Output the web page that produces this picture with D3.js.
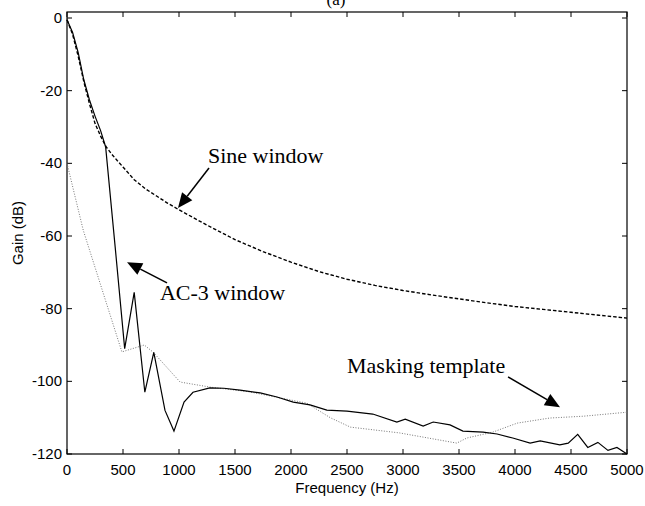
<!DOCTYPE html>
<html><head><meta charset="utf-8">
<script src="https://cdn.jsdelivr.net/npm/d3@7"></script>
<style>body{margin:0;background:#fff}svg{display:block}</style>
</head><body>
<svg id="c" width="645" height="506"></svg>
<script>
const xTicks = [0,500,1000,1500,2000,2500,3000,3500,4000,4500,5000];
const yTicks = [0,-20,-40,-60,-80,-100,-120];

const freqSine = [0,50,100,150,200,250,300,350,400,450,500,600,700,800,900,1000,1250,1500,1750,2000,2250,2500,2750,3000,3250,3500,3750,4000,4250,4500,4750,5000];
const gainSine = [-0.5,-4.5,-10.5,-17.5,-23.5,-29,-32.5,-35.5,-37.5,-39.3,-41,-44.5,-47,-49,-51,-52.8,-57,-61,-64.3,-67.2,-69.8,-71.9,-73.6,-75,-76.2,-77.3,-78.4,-79.4,-80.2,-81,-81.8,-82.6];

const freqAC3 = [0,50,100,150,200,250,300,345,430,515,600,695,775,875,955,1045,1125,1275,1400,1545,1725,1875,2020,2170,2320,2500,2730,2945,3020,3180,3270,3420,3535,3715,3840,3980,4135,4225,4400,4475,4560,4650,4740,4830,4910,5000];
const gainAC3 = [-0.5,-4,-9.5,-17,-22.5,-27,-31,-35.5,-63,-91,-75.5,-103,-92,-108,-113.7,-105.7,-103,-101.8,-101.9,-102.4,-103.2,-104.3,-105.7,-106.5,-107.9,-108.2,-109,-111.2,-110.4,-112.3,-111.2,-112,-113.7,-114,-114.5,-115.6,-117,-116.4,-117.5,-117,-114.6,-118.2,-116.8,-119,-118.2,-120];

const freqMask = [0,145,490,690,770,1010,1280,1630,2140,2350,2530,2970,3480,3570,3800,4020,4310,4610,5000];
const gainMask = [-40,-58.4,-91.9,-90,-92,-100.2,-101.6,-102.9,-106,-110,-112.6,-114.2,-117,-115.6,-114,-111.5,-110.1,-109.6,-108.5];

// annotations (data units)
const labels = [
  {text:"Sine window", f:1259, g:-39.9},
  {text:"AC-3 window", f:830, g:-77.6},
  {text:"Masking template", f:2500, g:-97.7}
];
const arrows = [
  {f0:1268, g0:-41.3, f1:991, g1:-52.3},
  {f0:893, g0:-72.9, f1:536, g1:-67.2},
  {f0:3938, g0:-98.8, f1:4402, g1:-107.1}
];

const svg = d3.select("#c");
const L=67, R=627, T=12, B=454;
const x = d3.scaleLinear().domain([0,5000]).range([L,R]);
const y = d3.scaleLinear().domain([-120,0]).range([B,18]);

// frame
svg.append("rect").attr("x",L).attr("y",T).attr("width",R-L).attr("height",B-T)
  .attr("fill","none").attr("stroke","#000").attr("stroke-width",1.2);

const tl = 5;
const g = svg.append("g");
xTicks.forEach(t=>{
  g.append("line").attr("x1",x(t)).attr("x2",x(t)).attr("y1",B).attr("y2",B-tl).attr("stroke","#000");
  g.append("line").attr("x1",x(t)).attr("x2",x(t)).attr("y1",T).attr("y2",T+tl).attr("stroke","#000");
  g.append("text").attr("x",x(t)).attr("y",475).attr("text-anchor","middle")
    .attr("font-family","Liberation Sans, Arial, sans-serif").attr("font-size",15).text(t);
});
yTicks.forEach(t=>{
  g.append("line").attr("x1",L).attr("x2",L+tl).attr("y1",y(t)).attr("y2",y(t)).attr("stroke","#000");
  g.append("line").attr("x1",R).attr("x2",R-tl).attr("y1",y(t)).attr("y2",y(t)).attr("stroke","#000");
  g.append("text").attr("x",62).attr("y",y(t)+5).attr("text-anchor","end")
    .attr("font-family","Liberation Sans, Arial, sans-serif").attr("font-size",15).text(t);
});

svg.append("text").attr("x",(L+R)/2).attr("y",493).attr("text-anchor","middle")
  .attr("font-family","Liberation Sans, Arial, sans-serif").attr("font-size",15).text("Frequency (Hz)");
svg.append("text").attr("transform",`translate(23,${(T+B)/2}) rotate(-90)`).attr("text-anchor","middle")
  .attr("font-family","Liberation Sans, Arial, sans-serif").attr("font-size",15).text("Gain (dB)");
svg.append("text").attr("x",336).attr("y",5).attr("text-anchor","middle")
  .attr("font-family","Liberation Serif, serif").attr("font-size",17).text("(a)");

const line = d3.line().x(d=>x(d[0])).y(d=>y(d[1]));
const zip = (a,b)=>a.map((v,i)=>[v,b[i]]);

svg.append("path").datum(zip(freqMask,gainMask)).attr("d",line)
  .attr("fill","none").attr("stroke","#777").attr("stroke-width",1).attr("stroke-dasharray","1,1.6");
svg.append("path").datum(zip(freqSine,gainSine)).attr("d",line)
  .attr("fill","none").attr("stroke","#000").attr("stroke-width",1.4).attr("stroke-dasharray","3.5,2");
svg.append("path").datum(zip(freqAC3,gainAC3)).attr("d",line)
  .attr("fill","none").attr("stroke","#000").attr("stroke-width",1.2);

labels.forEach(l=>{
  svg.append("text").attr("x",x(l.f)).attr("y",y(l.g))
    .attr("font-family","Liberation Serif, 'Times New Roman', serif").attr("font-size",22).text(l.text);
});

arrows.forEach(a=>{
  const x0=x(a.f0), y0=y(a.g0), x1=x(a.f1), y1=y(a.g1);
  const dx=x1-x0, dy=y1-y0, len=Math.hypot(dx,dy), ux=dx/len, uy=dy/len;
  const hl=15, hw=6.5;
  const bx=x1-ux*hl, by=y1-uy*hl;
  svg.append("line").attr("x1",x0).attr("y1",y0).attr("x2",bx).attr("y2",by)
    .attr("stroke","#000").attr("stroke-width",1.5);
  svg.append("path").attr("d",`M${x1},${y1}L${bx-uy*hw},${by+ux*hw}L${bx+uy*hw},${by-ux*hw}Z`).attr("fill","#000");
});
</script>
</body></html>
